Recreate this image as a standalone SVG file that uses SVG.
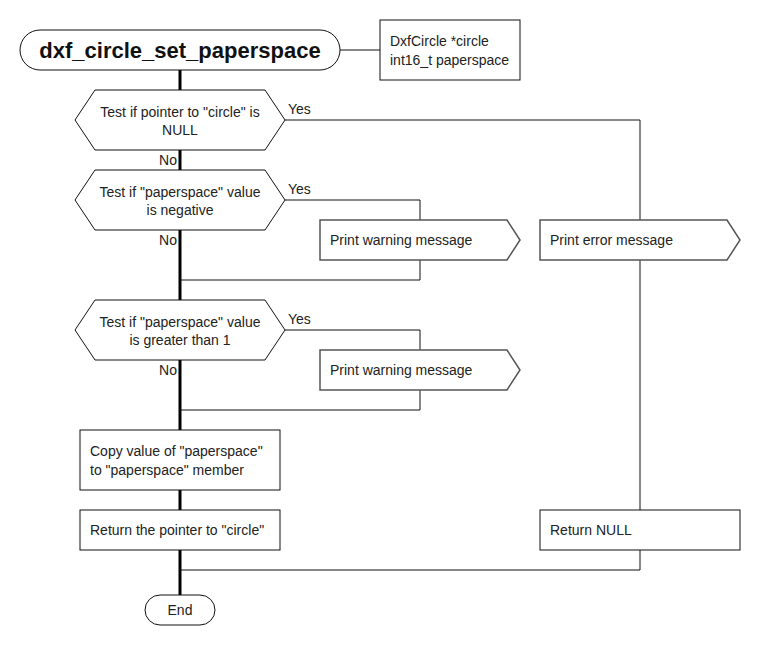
<svg xmlns="http://www.w3.org/2000/svg" width="760" height="650" viewBox="0 0 760 650">
<style>
text{font-family:"Liberation Sans",Arial,sans-serif;font-size:14px;fill:#222}
.t{font-size:22px;font-weight:bold;fill:#111}
.c{text-anchor:middle}
.r{text-anchor:end}
.n{fill:#fff;stroke:#111;stroke-width:1}
.p{fill:#fff;stroke:#555;stroke-width:1.5}
.thin{fill:none;stroke:#111;stroke-width:1}
.thick{fill:none;stroke:#000;stroke-width:3}
</style>
<rect width="760" height="650" fill="#fff"/>
<g id="connectors">
<line class="thick" x1="180" y1="70" x2="180" y2="595"/>
<line class="thin" x1="340" y1="50" x2="380" y2="50"/>
<polyline class="thin" points="285,120 640,120 640,220"/>
<line class="thin" x1="640" y1="260" x2="640" y2="510"/>
<polyline class="thin" points="640,550 640,570 180,570"/>
<polyline class="thin" points="285,200 420,200 420,220"/>
<polyline class="thin" points="420,260 420,280 180,280"/>
<polyline class="thin" points="285,330 420,330 420,350"/>
<polyline class="thin" points="420,390 420,410 180,410"/>
<text x="288" y="114">Yes</text>
<text x="288" y="194">Yes</text>
<text x="288" y="324">Yes</text>
<text class="r" x="177" y="165">No</text>
<text class="r" x="177" y="245">No</text>
<text class="r" x="177" y="375">No</text>
</g>
<g id="start">
<rect class="n" x="20" y="30" width="320" height="40" rx="20"/>
<text class="t c" x="180" y="58">dxf_circle_set_paperspace</text>
</g>
<g id="params">
<rect class="n" x="380" y="20" width="140" height="60"/>
<text x="390" y="46">DxfCircle *circle</text>
<text x="390" y="65">int16_t paperspace</text>
</g>
<g id="test_null">
<polygon class="n" points="75,120 95,90 265,90 285,120 265,150 95,150"/>
<text class="c" x="180" y="117">Test if pointer to "circle" is</text>
<text class="c" x="180" y="135">NULL</text>
</g>
<g id="test_negative">
<polygon class="n" points="75,200 95,170 265,170 285,200 265,230 95,230"/>
<text class="c" x="180" y="197">Test if "paperspace" value</text>
<text class="c" x="180" y="215">is negative</text>
</g>
<g id="warn1">
<polygon class="p" points="320,220 507,220 520,240 507,260 320,260"/>
<text x="330" y="245">Print warning message</text>
</g>
<g id="error">
<polygon class="p" points="540,220 727,220 740,240 727,260 540,260"/>
<text x="550" y="245">Print error message</text>
</g>
<g id="test_greater">
<polygon class="n" points="75,330 95,300 265,300 285,330 265,360 95,360"/>
<text class="c" x="180" y="327">Test if "paperspace" value</text>
<text class="c" x="180" y="345">is greater than 1</text>
</g>
<g id="warn2">
<polygon class="p" points="320,350 507,350 520,370 507,390 320,390"/>
<text x="330" y="375">Print warning message</text>
</g>
<g id="copy">
<rect class="n" x="80" y="430" width="200" height="60"/>
<text x="90" y="456">Copy value of "paperspace"</text>
<text x="90" y="475">to "paperspace" member</text>
</g>
<g id="return_ptr">
<rect class="n" x="80" y="510" width="200" height="40"/>
<text x="90" y="535">Return the pointer to "circle"</text>
</g>
<g id="return_null">
<rect class="n" x="540" y="510" width="200" height="40"/>
<text x="550" y="535">Return NULL</text>
</g>
<g id="end">
<rect class="n" x="145" y="595" width="70" height="30" rx="15"/>
<text class="c" x="180" y="615">End</text>
</g>
</svg>
